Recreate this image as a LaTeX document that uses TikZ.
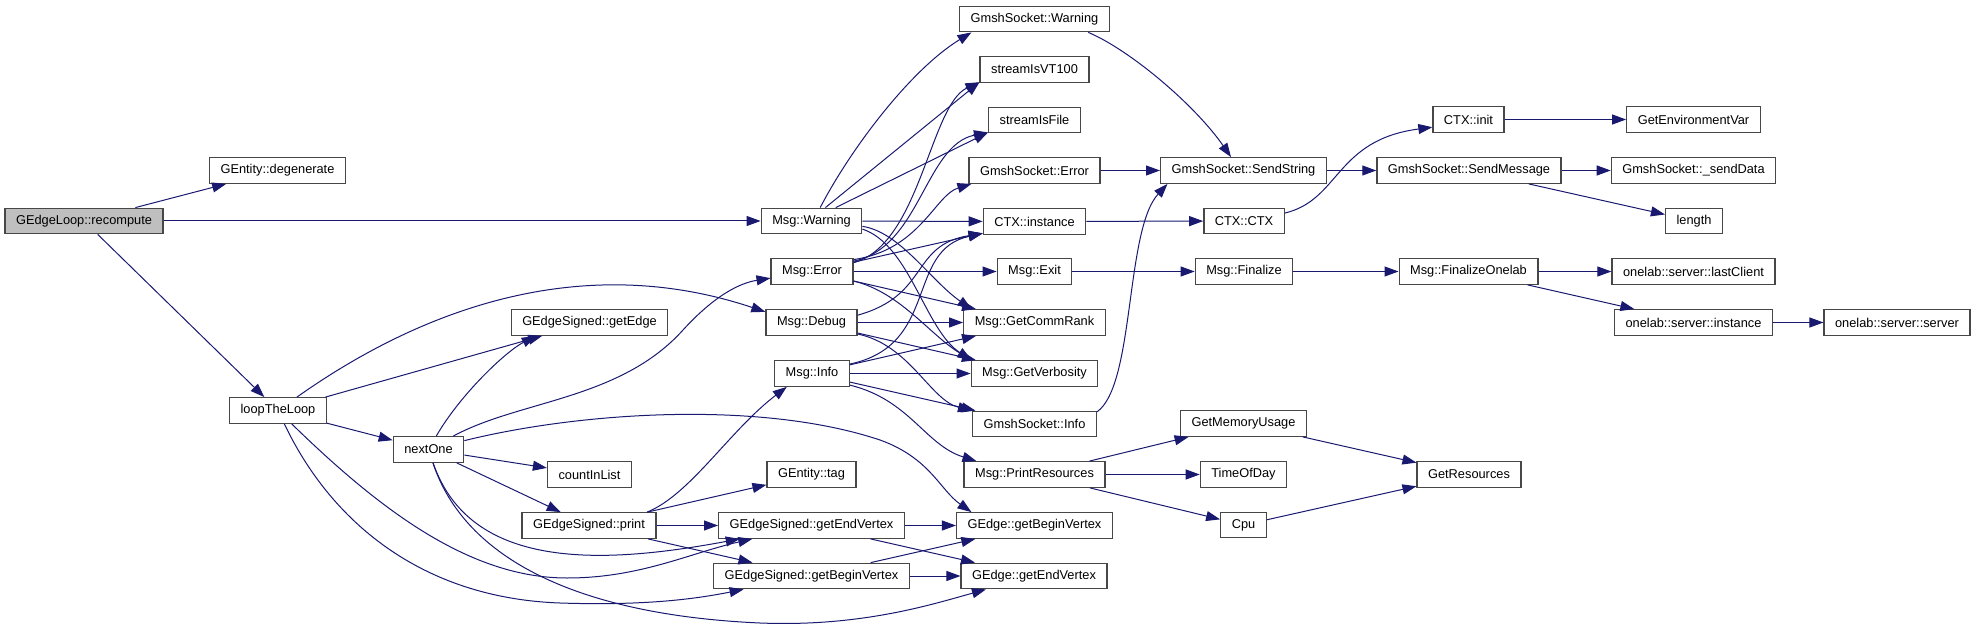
\documentclass[tikz,border=0pt]{standalone}
\usepackage{fontspec}
\setmainfont{Liberation Sans}
\usetikzlibrary{arrows.meta}
\usepackage{xcolor}
\definecolor{edgeblue}{RGB}{25,25,112}

\begin{document}
\begin{tikzpicture}[
    x=1pt, y=-1pt,
    func/.style={draw=black!72, line width=1.3pt, fill=white, minimum height=25.5pt,
      inner xsep=11pt, inner ysep=0pt, font=\fontsize{12.8}{15}\selectfont},
    focus/.style={func, fill=black!25},
    call/.style={->, draw=edgeblue, line width=1pt},
    >={Triangle[length=14pt,width=10pt]}
  ]
  \useasboundingbox (0,0) rectangle (1975,628);
  % column 0-2
  \node[focus] (recompute) at (84,221) {GEdgeLoop::recompute};
  \node[func] (degenerate) at (277.5,170.5) {GEntity::degenerate};
  \node[func] (loop) at (278,410.5) {loopTheLoop};
  \node[func] (nextOne) at (428.5,449.5) {nextOne};
  \node[func] (getEdge) at (589.5,322.5) {GEdgeSigned::getEdge};
  \node[func] (countInList) at (589.5,474.5) {countInList};
  \node[func] (print) at (589,525.5) {GEdgeSigned::print};
  % column 3
  \node[func] (warn) at (811.5,221) {Msg::Warning};
  \node[func] (error) at (812,271.5) {Msg::Error};
  \node[func] (debug) at (811.5,322.5) {Msg::Debug};
  \node[func] (info) at (812,373.5) {Msg::Info};
  \node[func] (tag) at (811.5,474.5) {GEntity::tag};
  \node[func] (sEnd) at (811.5,525.5) {GEdgeSigned::getEndVertex};
  \node[func] (sBegin) at (811.5,576) {GEdgeSigned::getBeginVertex};
  % column 4
  \node[func] (gsWarn) at (1034.5,19) {GmshSocket::Warning};
  \node[func] (vt100) at (1034.5,69.5) {streamIsVT100};
  \node[func] (isFile) at (1034.5,120) {streamIsFile};
  \node[func] (gsError) at (1034.5,170.5) {GmshSocket::Error};
  \node[func] (ctxInst) at (1034.5,221.5) {CTX::instance};
  \node[func] (exit) at (1034.5,271.5) {Msg::Exit};
  \node[func] (commRank) at (1034.5,322.5) {Msg::GetCommRank};
  \node[func] (verb) at (1034.5,373.5) {Msg::GetVerbosity};
  \node[func] (gsInfo) at (1034.5,424) {GmshSocket::Info};
  \node[func] (printRes) at (1034.5,474.5) {Msg::PrintResources};
  \node[func] (eBegin) at (1034.5,525.5) {GEdge::getBeginVertex};
  \node[func] (eEnd) at (1034,576) {GEdge::getEndVertex};
  % column 5-7
  \node[func] (sendStr) at (1243.5,170.5) {GmshSocket::SendString};
  \node[func] (ctx) at (1244,221) {CTX::CTX};
  \node[func] (finalize) at (1244,271.5) {Msg::Finalize};
  \node[func] (memUsage) at (1243.5,423.5) {GetMemoryUsage};
  \node[func] (timeOfDay) at (1243.5,474.5) {TimeOfDay};
  \node[func] (cpu) at (1243.5,525) {Cpu};
  \node[func] (ctxInit) at (1468.5,119.5) {CTX::init};
  \node[func] (sendMsg) at (1469,170.5) {GmshSocket::SendMessage};
  \node[func] (finOnelab) at (1468.5,271.5) {Msg::FinalizeOnelab};
  \node[func] (resources) at (1469,474.5) {GetResources};
  \node[func] (envVar) at (1693.5,119.5) {GetEnvironmentVar};
  \node[func] (sendData) at (1693.5,170.5) {GmshSocket::\_sendData};
  \node[func] (length) at (1694,221) {length};
  \node[func] (lastClient) at (1693.5,271.5) {onelab::server::lastClient};
  \node[func] (srvInst) at (1693.5,322.5) {onelab::server::instance};
  \node[func] (server) at (1897,322.5) {onelab::server::server};

  % straight calls
  \draw[call] (recompute) -- (degenerate);
  \draw[call] (recompute) -- (warn);
  \draw[call] (recompute) -- (loop);
  \draw[call] (loop) -- (getEdge);
  \draw[call] (loop) -- (nextOne);
  \draw[call] (nextOne) -- (countInList);
  \draw[call] (nextOne) -- (print);
  \draw[call] (print) -- (tag);
  \draw[call] (print) -- (sEnd);
  \draw[call] (print) -- (sBegin);
  \draw[call] (sEnd) -- (eBegin);
  \draw[call] (sEnd) -- (eEnd);
  \draw[call] (sBegin) -- (eBegin);
  \draw[call] (sBegin) -- (eEnd);
  \draw[call] (warn.44) -- (vt100.193);
  \draw[call] (warn.29) -- (isFile.195);
  \draw[call] (warn) -- (ctxInst);
  \draw[call] (error) -- (ctxInst);
  \draw[call] (error) -- (exit);
  \draw[call] (error) -- (commRank);
  \draw[call] (debug) -- (commRank);
  \draw[call] (debug) -- (verb);
  \draw[call] (info) -- (commRank);
  \draw[call] (info) -- (verb);
  \draw[call] (info) -- (gsInfo);
  \draw[call] (gsError) -- (sendStr);
  \draw[call] (ctxInst) -- (ctx);
  \draw[call] (ctxInit) -- (envVar);
  \draw[call] (sendStr) -- (sendMsg);
  \draw[call] (sendMsg) -- (sendData);
  \draw[call] (sendMsg) -- (length);
  \draw[call] (exit) -- (finalize);
  \draw[call] (finalize) -- (finOnelab);
  \draw[call] (finOnelab) -- (lastClient);
  \draw[call] (finOnelab) -- (srvInst);
  \draw[call] (srvInst) -- (server);
  \draw[call] (printRes) -- (memUsage);
  \draw[call] (printRes) -- (timeOfDay);
  \draw[call] (printRes) -- (cpu);
  \draw[call] (memUsage) -- (resources);
  \draw[call] (cpu) -- (resources);

  % curved calls
  \draw[call] (loop) .. controls (420,310) and (580,250) .. (debug.167);
  \draw[call] (nextOne) .. controls (460,395) and (505,352) .. (getEdge.194);
  \draw[call] (nextOne) .. controls (520,400) and (620,400) .. (683,330)
    .. controls (715,295) and (740,283) .. (error);
  \draw[call] (nextOne) .. controls (470,570) and (600,565) .. (sEnd);
  \draw[call] (loop) .. controls (380,510) and (470,578) .. (567,578)
    .. controls (640,578) and (690,553) .. (sEnd);
  \draw[call] (loop) .. controls (330,520) and (420,598) .. (560,603)
    .. controls (650,606) and (700,598) .. (sBegin);
  \draw[call] (nextOne) .. controls (465,560) and (580,615) .. (760,623)
    .. controls (860,627) and (930,605) .. (eEnd);
  \draw[call] (nextOne) .. controls (580,412) and (760,400) .. (880,440)
    .. controls (930,458) and (940,490) .. (eBegin.168);
  \draw[call] (print.13) .. controls (690,495) and (730,430) .. (info.208);
  \draw[call] (warn.57) .. controls (850,150) and (910,70) .. (gsWarn.192);
  \draw[call] (warn.-6) .. controls (900,232) and (930,280) .. (commRank.168);
  \draw[call] (warn.-9) .. controls (910,245) and (925,330) .. (verb.168);
  \draw[call] (error.12) .. controls (920,245) and (930,105) .. (vt100.193);
  \draw[call] (error.14) .. controls (920,248) and (925,145) .. (isFile.195);
  \draw[call] (error.16) .. controls (920,250) and (935,195) .. (gsError.192);
  \draw[call] (error.-13) .. controls (900,292) and (930,335) .. (verb.168);
  \draw[call] (debug.9) .. controls (930,295) and (910,245) .. (ctxInst.193);
  \draw[call] (debug.-14) .. controls (910,345) and (930,400) .. (gsInfo.168);
  \draw[call] (info.14) .. controls (940,345) and (905,250) .. (ctxInst.193);
  \draw[call] (info.-17) .. controls (910,400) and (925,445) .. (printRes.167);
  \draw[call] (gsWarn.-14) .. controls (1130,50) and (1195,105) .. (sendStr.133);
  \draw[call] (gsInfo.11) .. controls (1135,385) and (1125,230) .. (sendStr.190);
  \draw[call] (ctx.11) .. controls (1340,200) and (1335,140) .. (ctxInit.192);
\end{tikzpicture}
\end{document}
